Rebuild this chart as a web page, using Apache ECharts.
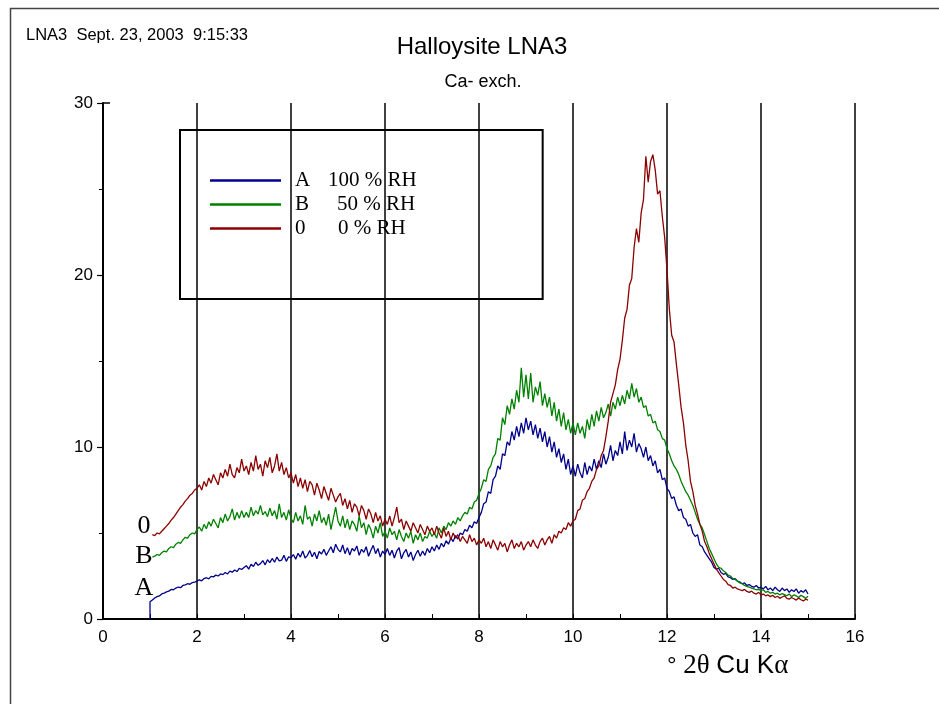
<!DOCTYPE html>
<html>
<head>
<meta charset="utf-8">
<script src="https://cdn.jsdelivr.net/npm/echarts@6/dist/echarts.min.js"></script>
<style>
html,body{margin:0;padding:0;background:#fff;}
#chart{width:939px;height:704px;}
</style>
</head>
<body>
<div id="chart"></div>
<script>
// sampling grid of the diffractograms (° 2θ)
const twoThetaStart = 1.05;
const twoThetaStep = 0.05;

// A : 100 % RH (blue)
const seriesA = [
  1.10,1.22,1.30,1.34,1.46,1.50,1.58,1.62,1.72,1.70,1.80,1.86,1.82,1.95,1.98,2.05,2.02,2.12,2.15,2.20,
  2.28,2.22,2.35,2.40,2.33,2.48,2.45,2.55,2.50,2.62,2.58,2.70,2.62,2.78,2.72,2.85,2.76,2.95,2.88,3.00,
  3.10,2.90,3.18,3.05,3.30,3.12,3.22,3.40,3.15,3.45,3.28,3.52,3.30,3.60,3.38,3.42,3.70,3.35,3.62,3.55,
  3.75,3.48,3.82,3.60,3.95,3.55,3.70,3.98,3.62,3.88,3.50,3.92,3.78,4.05,3.70,3.95,4.20,3.85,4.35,4.05,
  3.90,4.30,3.80,4.15,3.72,4.10,3.95,4.25,3.70,4.05,3.88,4.20,3.65,4.00,4.28,3.80,4.10,3.60,3.95,3.75,
  4.10,3.70,4.00,3.55,3.95,4.15,3.50,3.85,4.05,3.60,3.90,3.40,3.75,4.00,3.65,3.95,3.70,4.10,3.85,4.20,
  3.95,4.30,4.05,4.40,4.20,4.55,4.35,4.70,4.50,4.85,4.65,5.00,4.90,5.20,5.10,5.45,5.30,5.65,5.55,5.90,
  6.20,6.70,6.80,7.40,7.30,8.10,8.30,8.90,8.70,9.60,9.50,10.30,10.10,10.90,10.40,11.20,10.60,11.40,10.80,11.70,
  11.00,11.50,10.70,11.30,10.50,11.10,10.30,10.90,10.00,10.60,9.70,10.30,9.40,9.90,9.10,9.60,8.70,9.30,8.40,8.90,
  8.30,9.00,8.50,8.20,9.10,8.40,8.90,8.60,9.30,8.70,9.20,8.80,9.60,9.00,9.40,10.10,9.20,9.80,9.50,10.30,
  9.60,10.90,9.80,10.40,10.00,10.80,9.70,10.20,9.90,9.40,10.00,9.20,9.50,8.90,9.20,8.50,8.70,8.10,8.20,7.60,
  7.40,7.00,7.10,6.60,6.30,6.40,5.90,5.80,5.40,5.50,5.00,4.80,4.90,4.30,4.20,3.90,3.70,3.50,3.30,3.00,
  2.90,2.95,2.70,2.60,2.65,2.45,2.40,2.30,2.35,2.20,2.15,2.05,2.10,1.95,2.00,1.90,1.85,1.95,1.80,1.85,
  1.75,1.90,1.70,1.80,1.65,1.85,1.70,1.60,1.80,1.65,1.75,1.55,1.70,1.60,1.75,1.50,1.65,1.55,1.70,1.45
];
// the A trace begins with a vertical step at 1.0 °2θ
const seriesALead = [[1.0, 0], [1.0, 1.0]];

// B : 50 % RH (green)
const seriesB = [
  3.60,3.65,3.75,3.70,3.85,3.95,3.90,4.10,4.20,4.15,4.35,4.45,4.40,4.60,4.75,4.70,4.90,5.00,4.95,5.20,
  5.35,5.10,5.50,5.25,5.65,5.40,5.80,5.55,5.30,5.90,5.60,6.10,5.70,5.95,6.40,5.75,6.20,5.85,6.30,5.90,
  6.20,5.90,6.50,6.00,6.30,6.10,6.60,6.05,6.25,5.95,6.45,6.00,6.30,5.80,6.70,5.90,6.20,5.75,6.35,5.85,
  5.60,6.20,5.70,6.00,5.50,6.60,5.80,5.95,5.40,6.10,5.70,6.30,5.60,5.90,5.45,6.10,5.20,5.85,6.50,5.70,
  5.40,6.00,5.30,5.80,5.20,5.70,5.50,5.10,6.00,5.30,5.60,4.90,5.50,5.20,4.70,5.40,5.00,5.60,4.80,5.10,
  4.70,5.30,4.90,5.10,4.60,5.20,4.80,4.50,5.00,4.70,5.10,4.40,4.90,4.60,5.00,4.50,4.80,4.70,5.10,4.80,
  5.00,4.70,5.30,5.00,5.40,5.20,5.60,5.40,5.70,5.50,5.90,5.70,6.00,6.20,6.10,6.50,6.40,6.80,6.90,7.30,
  7.60,8.10,8.00,8.70,8.90,9.40,9.60,10.50,10.40,11.70,11.30,12.40,11.90,12.80,12.20,13.30,12.60,14.60,12.90,14.20,
  12.80,14.30,12.60,13.50,13.00,13.80,12.40,13.10,12.30,12.90,11.80,12.60,11.50,12.20,11.20,12.00,11.00,11.60,10.80,11.40,
  10.70,11.40,10.80,11.20,10.50,11.60,11.00,11.90,11.20,12.10,11.50,12.30,11.70,12.00,12.50,11.80,12.60,12.20,12.90,12.40,
  13.00,12.50,13.30,12.80,13.70,12.90,13.40,12.60,12.90,12.30,12.40,11.80,11.90,11.40,11.50,11.00,10.90,10.50,10.40,9.90,
  9.60,9.20,8.90,8.70,8.40,8.00,7.70,7.40,7.20,6.90,6.60,6.20,5.80,5.50,5.30,4.90,4.50,4.10,3.80,3.50,
  3.20,3.00,2.95,2.80,2.70,2.55,2.50,2.35,2.30,2.20,2.10,2.05,1.95,1.90,1.85,1.80,1.75,1.70,1.72,1.65,
  1.70,1.55,1.60,1.50,1.55,1.45,1.50,1.40,1.48,1.42,1.35,1.45,1.30,1.40,1.35,1.25,1.38,1.30,1.20,1.32
];

// 0 : 0 % RH (dark red)
const series0 = [
  4.90,4.85,5.00,4.95,5.10,5.25,5.40,5.55,5.75,5.90,6.10,6.30,6.50,6.65,6.85,7.00,7.20,7.30,7.50,7.60,
  7.80,7.50,8.00,7.70,8.20,7.90,8.40,8.10,7.80,8.50,8.20,8.70,8.30,9.00,8.40,8.20,8.80,8.50,9.30,8.60,
  8.90,8.40,9.10,8.60,9.50,8.70,9.00,8.30,9.20,8.80,9.40,8.50,8.90,9.60,8.60,9.10,8.40,8.80,8.20,8.50,
  7.90,8.40,7.70,8.20,7.60,8.10,7.40,8.00,7.80,7.20,7.90,7.50,7.00,7.70,7.30,6.90,7.60,7.20,6.80,7.10,
  7.30,6.60,7.00,6.40,6.90,6.20,6.70,6.50,6.00,6.60,6.30,5.80,6.40,6.10,5.60,6.20,5.70,6.00,5.40,5.80,
  5.50,6.00,5.40,5.90,6.50,5.60,5.80,5.20,5.70,5.40,5.10,5.60,5.30,5.00,5.50,5.20,4.90,5.40,5.10,5.30,
  4.90,5.40,5.00,4.70,5.30,4.80,5.10,4.60,5.00,4.70,4.90,4.50,4.80,4.60,4.40,4.90,4.50,4.70,4.30,4.60,
  4.40,4.70,4.20,4.50,4.10,4.60,4.30,4.00,4.50,4.20,4.40,3.90,4.30,4.60,4.10,4.40,4.20,4.50,4.00,4.30,
  4.50,4.20,4.60,4.30,4.10,4.50,4.70,4.30,4.60,4.80,4.40,4.90,4.70,5.10,5.00,5.30,5.20,5.60,5.40,5.70,
  5.80,6.30,6.40,6.90,7.00,7.40,7.60,8.00,8.20,8.70,8.90,9.50,9.80,10.60,11.50,12.60,13.10,13.60,14.50,15.10,
  16.20,17.50,18.00,19.40,19.80,21.60,22.70,21.90,23.60,24.40,26.90,25.40,26.60,27.00,26.10,24.70,24.90,23.40,22.20,20.30,
  18.00,16.50,16.10,14.80,13.60,12.30,11.40,10.10,9.20,8.00,7.40,6.60,6.10,5.50,5.10,4.50,4.20,3.80,3.50,3.20,
  2.90,2.70,2.50,2.30,2.20,2.00,1.95,1.80,1.85,1.75,1.70,1.65,1.72,1.60,1.55,1.62,1.50,1.45,1.55,1.40,
  1.45,1.35,1.40,1.30,1.38,1.25,1.32,1.20,1.28,1.35,1.20,1.15,1.25,1.18,1.10,1.22,1.12,1.05,1.15,1.10
];

const xTicks = [0, 16, 2];   // min, max, interval
const yTicks = [0, 30, 10];  // min, max, interval

const seriesNames = ['A 100 % RH', 'B 50 % RH', '0 0 % RH'];
const seriesColors = ['#00008b', '#008000', '#8b0000'];

function toPairs(values) {
  return values.map(function (v, i) {
    return [Math.round((twoThetaStart + i * twoThetaStep) * 100) / 100, v];
  });
}

const chart = echarts.init(document.getElementById('chart'), null, {renderer: 'canvas'});
const serif = '"Liberation Serif", "DejaVu Serif", serif';
const sans = '"Liberation Sans", Arial, sans-serif';

function lineSeries(name, color, data) {
  return {
    name: name, type: 'line', data: data, showSymbol: false, symbol: 'none',
    lineStyle: {color: color, width: 1.3}, itemStyle: {color: color},
    emphasis: {disabled: true}, animation: false, z: 3
  };
}

chart.setOption({
  animation: false,
  backgroundColor: '#fff',
  grid: {left: 103, right: 84, top: 103, bottom: 85, containLabel: false},
  xAxis: {
    type: 'value', min: xTicks[0], max: xTicks[1], interval: xTicks[2],
    axisLine: {show: true, onZero: false, lineStyle: {color: '#000', width: 2}},
    axisTick: {show: true, inside: true, length: 5, lineStyle: {color: '#000', width: 1}},
    minorTick: {show: true, splitNumber: 2, length: 5, lineStyle: {color: '#000', width: 1}},
    splitLine: {show: true, lineStyle: {color: '#000', width: 1.5}},
    axisLabel: {color: '#000', fontSize: 17, fontFamily: sans, margin: 10}
  },
  yAxis: {
    type: 'value', min: yTicks[0], max: yTicks[1], interval: yTicks[2],
    axisLine: {show: true, onZero: false, lineStyle: {color: '#000', width: 2}},
    axisTick: {show: true, inside: false, length: 6, lineStyle: {color: '#000', width: 1.2}},
    minorTick: {show: true, splitNumber: 2, length: 4, lineStyle: {color: '#000', width: 1}},
    splitLine: {show: false},
    axisLabel: {color: '#000', fontSize: 17, fontFamily: sans, margin: 10}
  },
  legend: {
    show: true, orient: 'vertical', left: 180, top: 130,
    padding: [40, 126, 60, 30],
    borderColor: '#000', borderWidth: 2,
    icon: 'rect', itemWidth: 71, itemHeight: 2.5, itemGap: 3,
    selectedMode: false,
    data: seriesNames,
    formatter: function (name) {
      const idx = seriesNames.indexOf(name);
      const parts = name.split(' ');
      const letter = parts[0];
      const rest = parts.slice(1).join(' ');
      return '{k' + idx + '|' + letter + '}{v|' + rest + '}';
    },
    textStyle: {
      fontFamily: serif, fontSize: 21, color: '#000',
      rich: {
        k0: {fontFamily: serif, fontSize: 21, width: 33, padding: [0, 0, 0, 9]},
        k1: {fontFamily: serif, fontSize: 21, width: 42, padding: [0, 0, 0, 9]},
        k2: {fontFamily: serif, fontSize: 21, width: 43, padding: [0, 0, 0, 9]},
        v: {fontFamily: serif, fontSize: 21}
      }
    }
  },
  graphic: [
    {type: 'line', shape: {x1: 10, y1: 8.5, x2: 939, y2: 8.5}, style: {stroke: '#444', lineWidth: 1.5}, silent: true},
    {type: 'line', shape: {x1: 10.5, y1: 8, x2: 10.5, y2: 704}, style: {stroke: '#444', lineWidth: 1.5}, silent: true},
    {type: 'line', shape: {x1: 103, y1: 103, x2: 110, y2: 103}, style: {stroke: '#000', lineWidth: 1.5}, silent: true},
    {type: 'text', x: 26, y: 35, style: {text: 'LNA3  Sept. 23, 2003  9:15:33', font: '16.5px ' + sans, fill: '#000', textVerticalAlign: 'middle'}, silent: true},
    {type: 'text', x: 482, y: 47, style: {text: 'Halloysite LNA3', font: '24px ' + sans, fill: '#000', textAlign: 'center', textVerticalAlign: 'middle'}, silent: true},
    {type: 'text', x: 483, y: 82, style: {text: 'Ca- exch.', font: '18px ' + sans, fill: '#000', textAlign: 'center', textVerticalAlign: 'middle'}, silent: true},
    {type: 'text', x: 144, y: 526, style: {text: '0', font: '26px ' + serif, fill: '#000', textAlign: 'center', textVerticalAlign: 'middle'}, silent: true},
    {type: 'text', x: 144, y: 556, style: {text: 'B', font: '26px ' + serif, fill: '#000', textAlign: 'center', textVerticalAlign: 'middle'}, silent: true},
    {type: 'text', x: 144, y: 588, style: {text: 'A', font: '26px ' + serif, fill: '#000', textAlign: 'center', textVerticalAlign: 'middle'}, silent: true},
    {type: 'text', x: 667, y: 666, silent: true, style: {
      text: '{d|°}  {s|2θ}  {c|Cu K}{s|α}', fill: '#000', textVerticalAlign: 'middle',
      rich: {
        d: {font: '24px ' + sans, fill: '#000'},
        s: {font: '27px ' + serif, fill: '#000'},
        c: {font: '26px ' + sans, fill: '#000'}
      }
    }}
  ],
  series: [
    lineSeries(seriesNames[0], seriesColors[0], seriesALead.concat(toPairs(seriesA))),
    lineSeries(seriesNames[1], seriesColors[1], toPairs(seriesB)),
    lineSeries(seriesNames[2], seriesColors[2], toPairs(series0))
  ]
});
</script>
</body>
</html>
